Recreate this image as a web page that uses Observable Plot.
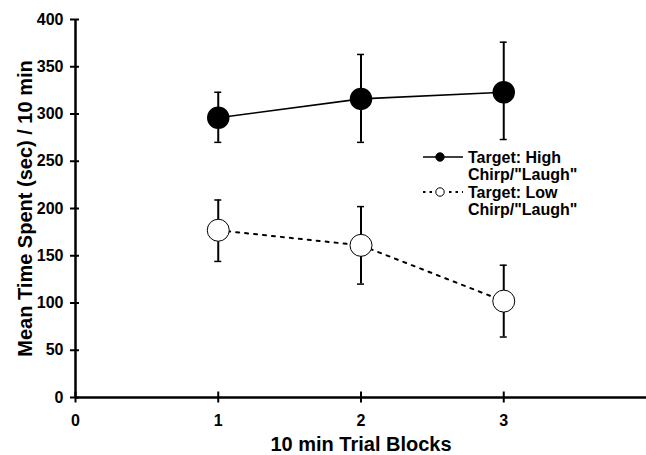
<!DOCTYPE html>
<html>
<head>
<meta charset="utf-8">
<script src="https://cdn.jsdelivr.net/npm/d3@7"></script>
<script src="https://cdn.jsdelivr.net/npm/@observablehq/plot@0.6"></script>
<style>
  html, body { margin: 0; padding: 0; background: #fff; }
  #chart svg { display: block; font-family: "Liberation Sans", Arial, sans-serif; font-weight: bold; }
</style>
</head>
<body>
<div id="chart"></div>
<script>
const blocks = [1, 2, 3];
const highMean = [296, 316, 323];
const highLo = [270, 270, 273];
const highHi = [323, 363, 376];
const lowMean = [177, 161, 102];
const lowLo = [144, 120, 64];
const lowHi = [209, 202, 140];
const xTicks = [0, 1, 2, 3];
const yTicks = [0, 50, 100, 150, 200, 250, 300, 350, 400];
const seriesNames = ["Target: High\nChirp/\"Laugh\"", "Target: Low\nChirp/\"Laugh\""];

const high = blocks.map((b, i) => ({x: b, y: highMean[i], lo: highLo[i], hi: highHi[i]}));
const low = blocks.map((b, i) => ({x: b, y: lowMean[i], lo: lowLo[i], hi: lowHi[i]}));

const plot = Plot.plot({
  width: 646,
  height: 455,
  marginLeft: 75,
  marginRight: 0,
  marginTop: 19,
  marginBottom: 58,
  style: {fontFamily: "Liberation Sans, Arial, sans-serif", fontWeight: "bold", color: "#000", background: "#fff"},
  x: {domain: [0, 4]},
  y: {domain: [0, 400]},
  marks: [
    Plot.axisX({ticks: xTicks, tickFormat: "d", tickSize: 11, dy: -5.5, tickPadding: 12, fontSize: 16, strokeWidth: 2, label: "10 min Trial Blocks", labelAnchor: "center", labelArrow: "none", labelOffset: 53}),
    Plot.axisY({ticks: yTicks, tickFormat: "d", tickSize: 9, dx: 4, tickPadding: 7, fontSize: 16, strokeWidth: 2, label: "Mean Time Spent (sec) / 10 min", labelAnchor: "center", labelArrow: "none", labelOffset: 58}),
    Plot.ruleY([0], {stroke: "#000", strokeWidth: 2.5}),
    Plot.ruleX([0], {stroke: "#000", strokeWidth: 2.5}),
    // lines
    Plot.line(high, {x: "x", y: "y", stroke: "#000", strokeWidth: 1.6}),
    Plot.line(low, {x: "x", y: "y", stroke: "#000", strokeWidth: 2, strokeDasharray: "3,6"}),
    // error bars
    Plot.ruleX(high, {x: "x", y1: "lo", y2: "hi", stroke: "#000", strokeWidth: 2}),
    Plot.ruleY(high, {y: "hi", x1: "x", x2: "x", insetLeft: -3.5, insetRight: -3.5, stroke: "#000", strokeWidth: 1.5}),
    Plot.ruleY(high, {y: "lo", x1: "x", x2: "x", insetLeft: -3.5, insetRight: -3.5, stroke: "#000", strokeWidth: 1.5}),
    Plot.ruleX(low, {x: "x", y1: "lo", y2: "hi", stroke: "#000", strokeWidth: 2}),
    Plot.ruleY(low, {y: "hi", x1: "x", x2: "x", insetLeft: -3.5, insetRight: -3.5, stroke: "#000", strokeWidth: 1.5}),
    Plot.ruleY(low, {y: "lo", x1: "x", x2: "x", insetLeft: -3.5, insetRight: -3.5, stroke: "#000", strokeWidth: 1.5}),
    // markers
    Plot.dot(high, {x: "x", y: "y", r: 10.5, fill: "#000", stroke: "#000"}),
    Plot.dot(low, {x: "x", y: "y", r: 11, fill: "#fff", stroke: "#000", strokeWidth: 1})
  ]
});

d3.select(plot).selectAll('[aria-label="x-axis label"] text, [aria-label="y-axis label"] text')
  .style("font-size", "20px");

// legend
const svg = d3.select(plot);
const lg = svg.append("g").attr("transform", "translate(423,157)").attr("text-anchor", "start");
const items = [
  {dash: null, fill: "#000", dy: 0},
  {dash: "2.5,4", fill: "#fff", dy: 35}
];
items.forEach((it, i) => {
  const g = lg.append("g").attr("transform", `translate(0,${it.dy})`);
  g.append("line").attr("x1", 0).attr("x2", 40).attr("y1", 0).attr("y2", 0)
    .attr("stroke", "#000").attr("stroke-width", it.dash ? 2 : 1.6)
    .attr("stroke-dasharray", it.dash);
  if (it.dash) g.append("rect").attr("x", 11).attr("y", -6).attr("width", 12).attr("height", 12).attr("fill", "#fff");
  g.append("circle").attr("cx", 17).attr("cy", 0).attr("r", 4.2)
    .attr("fill", it.fill).attr("stroke", "#000").attr("stroke-width", 1);
  const t = g.append("text").attr("x", 45).attr("y", 0).attr("font-size", 16)
    .attr("font-weight", "bold").attr("fill", "#000").attr("text-anchor", "start");
  seriesNames[i].split("\n").forEach((s, k) => {
    t.append("tspan").attr("x", 45).attr("dy", k === 0 ? "0.36em" : "1.08em").text(s);
  });
});

document.getElementById("chart").appendChild(plot);
</script>
</body>
</html>
